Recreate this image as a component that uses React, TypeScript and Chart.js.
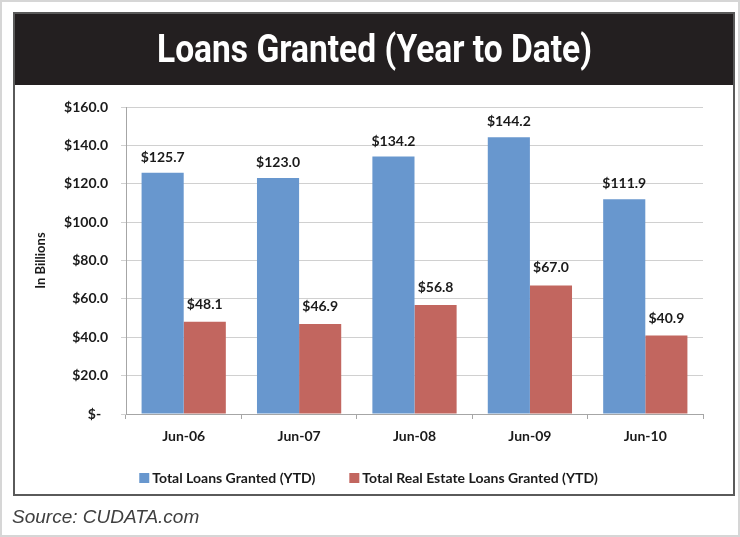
import React, { useEffect, useRef } from "react";
import { Chart, registerables } from "chart.js";

Chart.register(...registerables);

const categories = ["Jun-06", "Jun-07", "Jun-08", "Jun-09", "Jun-10"];
const totalLoans = [125.7, 123.0, 134.2, 144.2, 111.9];
const realEstateLoans = [48.1, 46.9, 56.8, 67.0, 40.9];
const seriesNames = ["Total Loans Granted (YTD)", "Total Real Estate Loans Granted (YTD)"];
const seriesColors = ["#6897CE", "#C2665F"];
const titleText = "Loans Granted (Year to Date)";
const yAxisTitle = "In Billions";
const sourceText = "Source: CUDATA.com";
const yMin = 0;
const yMax = 160;
const yStep = 20;

const fmtTick = (v: number) => (v === 0 ? "$-  " : "$" + v.toFixed(1));
const fmtLabel = (v: number) => "$" + v.toFixed(1);

const decorPlugin = {
  id: "decor",
  beforeDraw(chart: any) {
    const ctx = chart.ctx as CanvasRenderingContext2D;
    const W = chart.width;
    const H = chart.height;
    ctx.save();
    ctx.fillStyle = "#ffffff";
    ctx.fillRect(0, 0, W, H);
    ctx.strokeStyle = "#d6d6d6";
    ctx.lineWidth = 2;
    ctx.strokeRect(1, 1, W - 2, H - 2);
    ctx.fillStyle = "#231f20";
    ctx.fillRect(13, 12, 722, 73);
    ctx.strokeStyle = "#5a5a5a";
    ctx.lineWidth = 2;
    ctx.strokeRect(14, 13, 720, 482);
    ctx.font = "bold 38px Roboto";
    const w = ctx.measureText(titleText).width;
    const sx = 435 / w;
    ctx.translate(374.5, 62);
    ctx.scale(sx, 1);
    ctx.fillStyle = "#ffffff";
    ctx.textAlign = "center";
    ctx.textBaseline = "alphabetic";
    ctx.fillText(titleText, 0, 0);
    ctx.restore();
  },
  afterDraw(chart: any) {
    const ctx = chart.ctx as CanvasRenderingContext2D;
    ctx.save();
    ctx.font = "bold 14px Lato";
    ctx.fillStyle = "#1a1a1a";
    ctx.textAlign = "center";
    ctx.textBaseline = "alphabetic";
    chart.data.datasets.forEach((ds: any, di: number) => {
      const meta = chart.getDatasetMeta(di);
      meta.data.forEach((el: any, i: number) => {
        ctx.fillText(fmtLabel(ds.data[i]), el.x, el.y - (di === 0 ? 11 : 13));
      });
    });
    const ca = chart.chartArea;
    ctx.save();
    ctx.translate(41, (ca.top + ca.bottom) / 2);
    ctx.rotate(-Math.PI / 2);
    ctx.font = "bold 13px Lato";
    ctx.textBaseline = "middle";
    ctx.fillText(yAxisTitle, 0, 0);
    ctx.restore();
    ctx.font = "bold 14px Lato";
    const sq = 10;
    const gap = 3;
    const spacing = 34;
    const w1 = ctx.measureText(seriesNames[0]).width;
    const w2 = ctx.measureText(seriesNames[1]).width;
    const total = sq + gap + w1 + spacing + sq + gap + w2;
    let x = 368.5 - total / 2;
    const ly = 478;
    ctx.textAlign = "left";
    ctx.textBaseline = "middle";
    seriesNames.forEach((name, i) => {
      ctx.fillStyle = seriesColors[i];
      ctx.fillRect(x, ly - sq / 2, sq, sq);
      x += sq + gap;
      ctx.fillStyle = "#1a1a1a";
      ctx.fillText(name, x, ly + 0.5);
      x += (i === 0 ? w1 : w2) + spacing;
    });
    ctx.font = "italic 19px 'Liberation Sans', Arial, sans-serif";
    ctx.fillStyle = "#404040";
    ctx.textBaseline = "alphabetic";
    ctx.fillText(sourceText, 12, 523);
    ctx.restore();
  },
};

export default function App() {
  const ref = useRef<HTMLCanvasElement | null>(null);
  useEffect(() => {
    if (!ref.current) return;
    const chart = new Chart(ref.current, {
      type: "bar",
      data: {
        labels: categories,
        datasets: [
          {
            label: seriesNames[0],
            data: totalLoans,
            backgroundColor: seriesColors[0],
            borderWidth: 0,
            barPercentage: 1,
            categoryPercentage: 0.73,
          },
          {
            label: seriesNames[1],
            data: realEstateLoans,
            backgroundColor: seriesColors[1],
            borderWidth: 0,
            barPercentage: 1,
            categoryPercentage: 0.73,
          },
        ],
      },
      options: {
        responsive: false,
        maintainAspectRatio: false,
        devicePixelRatio: 1,
        animation: false,
        layout: { padding: { left: 0, right: 37, top: 107, bottom: 83 } },
        plugins: {
          legend: { display: false },
          title: { display: false },
          tooltip: { enabled: false },
        },
        scales: {
          x: {
            afterFit: (s: any) => {
              s.height = 40;
            },
            grid: {
              display: true,
              drawOnChartArea: false,
              drawTicks: true,
              tickLength: 5,
              color: "#a6a6a6",
              offset: true,
            },
            border: { display: true, color: "#a6a6a6" },
            ticks: {
              font: { family: "Lato", weight: "bold", size: 14 },
              color: "#1a1a1a",
              padding: 9,
            },
          },
          y: {
            min: yMin,
            max: yMax,
            afterFit: (s: any) => {
              s.width = 126;
            },
            ticks: {
              stepSize: yStep,
              callback: (v: any) => fmtTick(Number(v)),
              font: { family: "Lato", weight: "bold", size: 14 },
              color: "#1a1a1a",
              padding: 13,
            },
            grid: { color: "#d0d0d0", tickLength: 5, drawTicks: true },
            border: { display: true, color: "#a6a6a6" },
          },
        },
      },
      plugins: [decorPlugin],
    });
    const fonts: any = (document as any).fonts;
    if (fonts && fonts.load) {
      Promise.all([
        fonts.load("bold 14px Lato"),
        fonts.load("bold 38px Roboto"),
        fonts.load("italic 18px 'Liberation Sans'"),
      ])
        .then(() => chart.update())
        .catch(() => {});
    }
    return () => chart.destroy();
  }, []);
  return (
    <div style={{ position: "absolute", left: 0, top: 0, width: 740, height: 537 }}>
      <canvas
        ref={ref}
        width={740}
        height={537}
        style={{ display: "block", width: 740, height: 537 }}
      />
    </div>
  );
}
